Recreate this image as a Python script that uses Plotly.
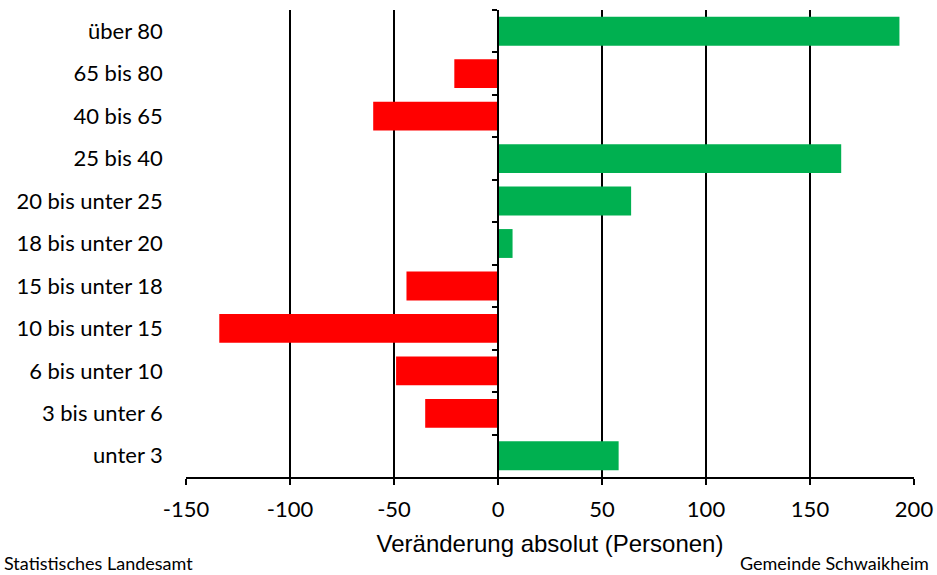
import plotly.graph_objects as go

# Altersgruppen (von oben nach unten) und Veränderung absolut in Personen
age_groups = [
    "über 80", "65 bis 80", "40 bis 65", "25 bis 40", "20 bis unter 25",
    "18 bis unter 20", "15 bis unter 18", "10 bis unter 15", "6 bis unter 10",
    "3 bis unter 6", "unter 3",
]
change = [193, -21, -60, 165, 64, 7, -44, -134, -49, -35, 58]

x_ticks = [-150, -100, -50, 0, 50, 100, 150, 200]

GREEN = "#00B050"
RED = "#FF0000"
colors = [GREEN if v > 0 else RED for v in change]

x_min, x_max = -150, 200
zero_pos = (0 - x_min) / (x_max - x_min)

LABEL_FONT = "Lato, Carlito, Open Sans"

fig = go.Figure(
    go.Bar(
        x=change,
        y=age_groups,
        orientation="h",
        marker=dict(color=colors, line=dict(width=0)),
        hoverinfo="x+y",
    )
)

fig.update_layout(
    width=937,
    height=575,
    margin=dict(l=186, r=23, t=10, b=98),
    paper_bgcolor="white",
    plot_bgcolor="white",
    bargap=0.32,
    showlegend=False,
    xaxis=dict(
        range=[x_min, x_max],
        tickvals=x_ticks,
        ticktext=[str(v) for v in x_ticks],
        showgrid=True,
        gridcolor="black",
        gridwidth=1.5,
        zeroline=False,
        showline=True,
        linecolor="black",
        linewidth=1.5,
        ticks="outside",
        ticklen=6,
        tickwidth=1.5,
        tickcolor="black",
        ticklabelstandoff=6,
        tickfont=dict(family=LABEL_FONT, size=22, color="black"),
        title=dict(
            text="Veränderung absolut (Personen)",
            font=dict(family="Liberation Sans, Arial", size=24, color="black"),
            standoff=14,
        ),
        automargin=False,
    ),
    yaxis=dict(
        type="category",
        categoryorder="array",
        categoryarray=age_groups,
        autorange="reversed",
        anchor="free",
        position=zero_pos,
        showgrid=False,
        zeroline=False,
        showline=True,
        linecolor="black",
        linewidth=1.5,
        ticks="outside",
        tickson="boundaries",
        ticklen=5,
        tickwidth=1.5,
        tickcolor="black",
        ticklabelstandoff=330,
        tickfont=dict(family=LABEL_FONT, size=22, color="black"),
        automargin=False,
    ),
    annotations=[
        dict(
            text="Statistisches Landesamt",
            xref="paper", yref="paper",
            x=0, y=0, xanchor="left", yanchor="bottom",
            xshift=-184, yshift=-99,
            showarrow=False,
            font=dict(family=LABEL_FONT, size=18, color="black"),
        ),
        dict(
            text="Gemeinde Schwaikheim",
            xref="paper", yref="paper",
            x=1, y=0, xanchor="right", yanchor="bottom",
            xshift=17, yshift=-99,
            showarrow=False,
            font=dict(family=LABEL_FONT, size=18, color="black"),
        ),
    ],
)

fig.write_html("out.html")
